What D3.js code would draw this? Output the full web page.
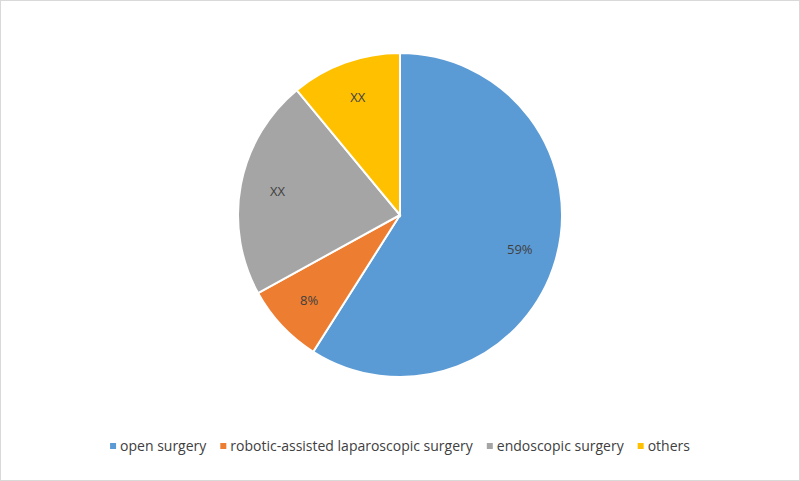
<!DOCTYPE html>
<html><head><meta charset="utf-8">
<script src="https://d3js.org/d3.v7.min.js"></script>
<style>body{margin:0;background:#fff}</style>
</head><body><div id="chart"></div>
<script>
const categories = ["open surgery", "robotic-assisted laparoscopic surgery", "endoscopic surgery", "others"];
const values = [59, 8, 22, 11];
const labels = ["59%", "8%", "XX", "XX"];
const colors = ["#5B9BD5", "#ED7D31", "#A5A5A5", "#FFC000"];

const width = 800, height = 481;
const svg = d3.select("#chart").append("svg").attr("width", width).attr("height", height)
  .style("font-family", "'Open Sans', sans-serif");

svg.append("rect").attr("x", 0.5).attr("y", 0.5).attr("width", width - 1).attr("height", height - 1)
  .attr("fill", "#fff").attr("stroke", "#d9d9d9");

const cx = 400, cy = 215, r = 162;
const pie = d3.pie().sort(null).value(d => d)(values);
const arc = d3.arc().innerRadius(0).outerRadius(r);
const labelArc = d3.arc().innerRadius(r * 0.77).outerRadius(r * 0.77);

const g = svg.append("g").attr("transform", `translate(${cx},${cy})`);
g.selectAll("path").data(pie).join("path")
  .attr("d", arc).attr("fill", (d, i) => colors[i])
  .attr("stroke", "#fff").attr("stroke-width", 2);

g.selectAll("text").data(pie).join("text")
  .attr("transform", d => `translate(${labelArc.centroid(d)})`)
  .attr("text-anchor", "middle").attr("dy", "0.35em")
  .style("font-size", "13px").attr("fill", "#404040")
  .text((d, i) => labels[i]);

// legend
const legend = svg.append("g");
let x = 0;
const items = categories.map((c, i) => {
  const it = legend.append("g").attr("transform", `translate(${x},0)`);
  it.append("rect").attr("x", 0).attr("y", -3).attr("width", 6).attr("height", 6).attr("fill", colors[i]);
  const t = it.append("text").attr("x", 10).attr("dy", "0.35em")
    .style("font-size", "14px").attr("fill", "#404040").text(c);
  x += 10 + t.node().getComputedTextLength() + 14;
  return it;
});
const total = x - 14;
legend.attr("transform", `translate(${(width - total) / 2},446)`);
</script></body></html>
